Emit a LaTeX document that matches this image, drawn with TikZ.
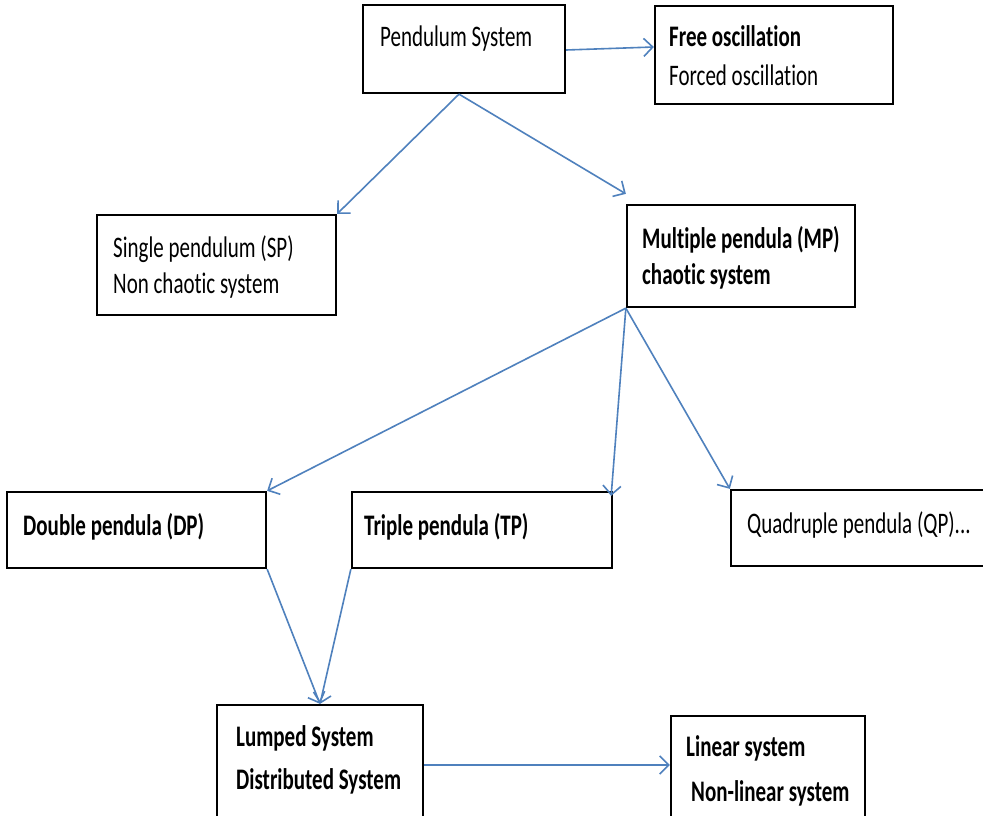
\documentclass[tikz,border=0pt]{standalone}
\usepackage{fontspec}
\setmainfont{Carlito}[Ligatures=NoCommon]
\usetikzlibrary{arrows.meta,calc}
\definecolor{arrblue}{HTML}{4F81BD}
\newcommand\tl[1]{\scalebox{1}[1.42]{#1}}
\begin{document}
\begin{tikzpicture}[x=1pt,y=-1pt,
  box/.style={draw=black,line width=2.3pt,inner sep=0pt},
  txt/.style={anchor=base west,inner sep=0pt,font=\fontsize{21}{25}\selectfont},
  btxt/.style={txt,font=\fontsize{21}{25}\selectfont\bfseries},
  conn/.style={draw=arrblue,line width=1.6pt,-{Straight Barb[length=9pt,width=18pt,line width=1.6pt]}}]
\clip (0,0) rectangle (983,816);
\fill[white] (0,0) rectangle (983,816);
% boxes
\node[box,minimum width=202pt,minimum height=88pt] (ps) at (464,49) {};
\node[box,minimum width=238pt,minimum height=98pt] (fo) at (774,55) {};
\node[box,minimum width=239pt,minimum height=100pt] (sp) at (216.5,265) {};
\node[box,minimum width=228pt,minimum height=102pt] (mp) at (741,256) {};
\node[box,minimum width=259pt,minimum height=76pt] (dp) at (136.5,530) {};
\node[box,minimum width=260pt,minimum height=76pt] (tp) at (482,530) {};
\node[box,minimum width=269pt,minimum height=76pt] (qp) at (865.5,528) {};
\node[box,minimum width=206pt,minimum height=125pt] (ls) at (320,767.5) {};
\node[box,minimum width=194pt,minimum height=114pt] (lin) at (768,773) {};
% texts
\node[txt] (t1) at (380,47) {\tl{Pendulum System}};
\node[btxt] (t2) at (669,47) {\tl{Free oscillation}};
\node[txt] (t3) at (669,85) {\tl{Forced oscillation}};
\node[txt] (t4) at (113,257) {\tl{Single pendulum (SP)}};
\node[txt] (t5) at (113,293) {\tl{Non chaotic system}};
\node[btxt] (t6) at (642,248) {\tl{Multiple pendula (MP)}};
\node[btxt] (t7) at (642,284) {\tl{chaotic system}};
\node[btxt] (t8) at (23,535) {\tl{Double pendula (DP)}};
\node[btxt] (t9) at (364,535) {\tl{Triple pendula (TP)}};
\node[txt] (t10) at (747,533) {\tl{Quadruple pendula (QP)...}};
\node[btxt] (t11) at (236,746) {\tl{Lumped System}};
\node[btxt] (t12) at (236,789) {\tl{Distributed System}};
\node[btxt] (t13) at (686,756) {\tl{Linear system}};
\node[btxt] (t14) at (691,801) {\tl{Non-linear system}};
% connectors
\coordinate (psb) at ($(ps.south)+(-5,0)$);
\draw[conn] ($(ps.east)+(0,1)$) -- ($(fo.west)+(0,-8)$);
\draw[conn] (psb) -- (sp.north east);
\draw[conn] (psb) -- ($(mp.north west)+(0,-10)$);
\draw[conn] (mp.south west) -- (dp.north east);
\draw[conn] (mp.south west) -- ($(tp.north east)+(-2,5)$);
\draw[conn] (mp.south west) -- (qp.north west);
\draw[conn] (dp.south east) -- (ls.north);
\draw[conn] (tp.south west) -- (ls.north);
\draw[conn] ($(ls.east)+(0,-2.5)$) -- ($(lin.west)+(0,-8)$);
\end{tikzpicture}
\end{document}
